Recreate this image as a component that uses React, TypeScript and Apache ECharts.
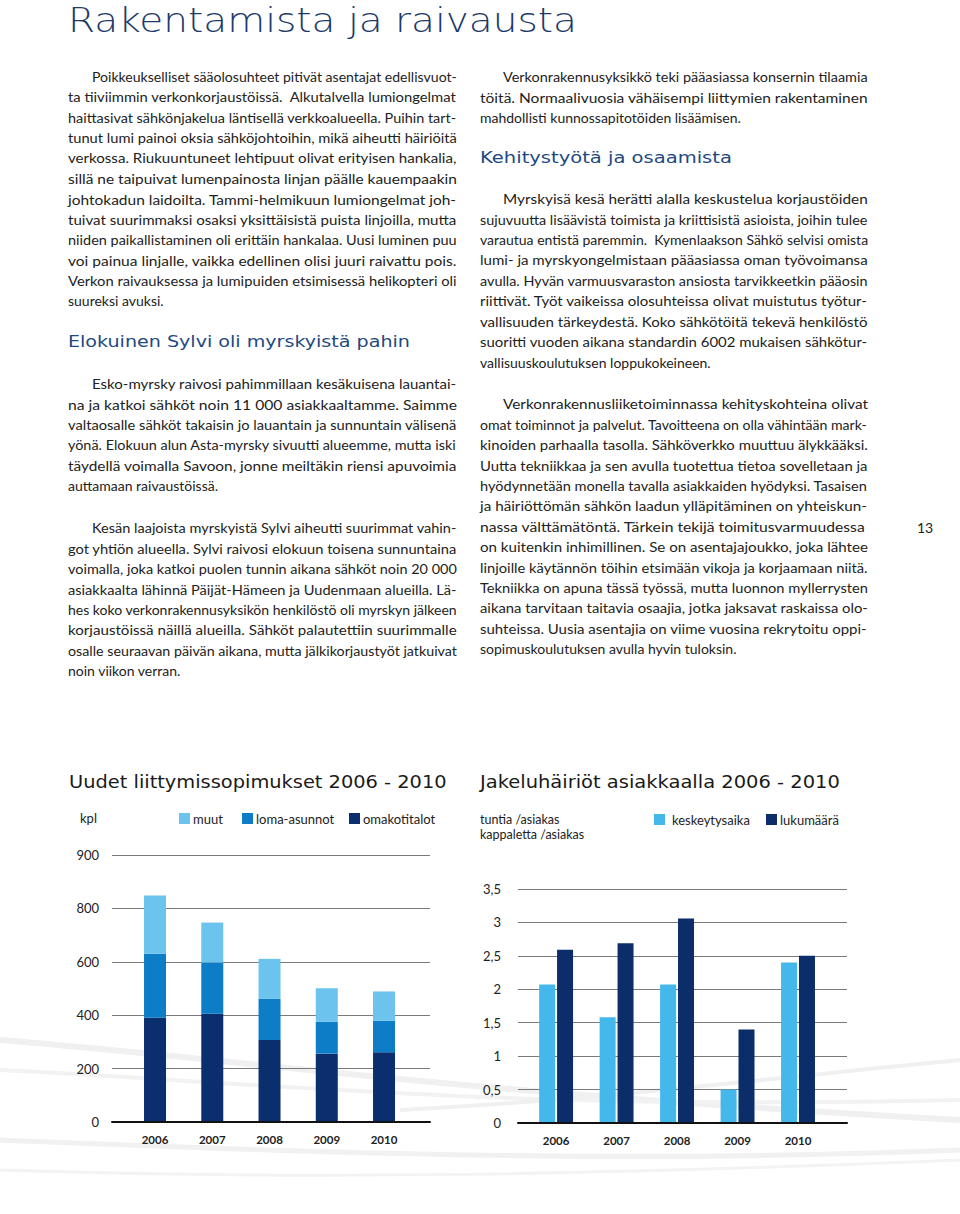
import React, { useEffect, useRef } from "react";
import * as echarts from "echarts";

// ---------- data ----------
const years = ["2006", "2007", "2008", "2009", "2010"];
const omakotitalot = [390, 405, 307, 256, 261];
const lomaAsunnot = [240, 192, 154, 120, 118];
const muut = [218, 150, 150, 125, 110];
const leftTickValues = [0, 200, 400, 600, 800, 1000];
const leftTickLabels = ["0", "200", "400", "600", "800", "900"];

const keskeytysaika = [2.07, 1.58, 2.07, 0.5, 2.4];
const lukumaara = [2.59, 2.69, 3.06, 1.4, 2.5];
const rightTickLabels = ["0", "0,5", "1", "1,5", "2", "2,5", "3", "3,5"];

// ---------- texts ----------
const pageTitle = "Rakentamista ja raivausta";
const heading1 = "Elokuinen Sylvi oli myrskyistä pahin";
const heading2 = "Kehitystyötä ja osaamista";
const chart1Title = "Uudet liittymissopimukset 2006 - 2010";
const chart2Title = "Jakeluhäiriöt asiakkaalla 2006 - 2010";

const para1 = [
  "Poikkeukselliset sääolosuhteet pitivät asentajat edellisvuot-",
  "ta tiiviimmin verkonkorjaustöissä.  Alkutalvella lumiongelmat",
  "haittasivat sähkönjakelua läntisellä verkkoalueella. Puihin tart-",
  "tunut lumi painoi oksia sähköjohtoihin, mikä aiheutti häiriöitä",
  "verkossa. Riukuuntuneet lehtipuut olivat erityisen hankalia,",
  "sillä ne taipuivat lumenpainosta linjan päälle kauempaakin",
  "johtokadun laidoilta. Tammi-helmikuun lumiongelmat joh-",
  "tuivat suurimmaksi osaksi yksittäisistä puista linjoilla, mutta",
  "niiden paikallistaminen oli erittäin hankalaa. Uusi luminen puu",
  "voi painua linjalle, vaikka edellinen olisi juuri raivattu pois.",
  "Verkon raivauksessa ja lumipuiden etsimisessä helikopteri oli",
  "suureksi avuksi.",
];
const para2 = [
  "Esko-myrsky raivosi pahimmillaan kesäkuisena lauantai-",
  "na ja katkoi sähköt noin 11 000 asiakkaaltamme. Saimme",
  "valtaosalle sähköt takaisin jo lauantain ja sunnuntain välisenä",
  "yönä. Elokuun alun Asta-myrsky sivuutti alueemme, mutta iski",
  "täydellä voimalla Savoon, jonne meiltäkin riensi apuvoimia",
  "auttamaan raivaustöissä.",
];
const para3 = [
  "Kesän laajoista myrskyistä Sylvi aiheutti suurimmat vahin-",
  "got yhtiön alueella. Sylvi raivosi elokuun toisena sunnuntaina",
  "voimalla, joka katkoi puolen tunnin aikana sähköt noin 20 000",
  "asiakkaalta lähinnä Päijät-Hämeen ja Uudenmaan alueilla. Lä-",
  "hes koko verkonrakennusyksikön henkilöstö oli myrskyn jälkeen",
  "korjaustöissä näillä alueilla. Sähköt palautettiin suurimmalle",
  "osalle seuraavan päivän aikana, mutta jälkikorjaustyöt jatkuivat",
  "noin viikon verran.",
];
const para4 = [
  "Verkonrakennusyksikkö teki pääasiassa konsernin tilaamia",
  "töitä. Normaalivuosia vähäisempi liittymien rakentaminen",
  "mahdollisti kunnossapitotöiden lisäämisen.",
];
const para5 = [
  "Myrskyisä kesä herätti alalla keskustelua korjaustöiden",
  "sujuvuutta lisäävistä toimista ja kriittisistä asioista, joihin tulee",
  "varautua entistä paremmin.  Kymenlaakson Sähkö selvisi omista",
  "lumi- ja myrskyongelmistaan pääasiassa oman työvoimansa",
  "avulla. Hyvän varmuusvaraston ansiosta tarvikkeetkin pääosin",
  "riittivät. Työt vaikeissa olosuhteissa olivat muistutus työtur-",
  "vallisuuden tärkeydestä. Koko sähkötöitä tekevä henkilöstö",
  "suoritti vuoden aikana standardin 6002 mukaisen sähkötur-",
  "vallisuuskoulutuksen loppukokeineen.",
];
const para6 = [
  "Verkonrakennusliiketoiminnassa kehityskohteina olivat",
  "omat toiminnot ja palvelut. Tavoitteena on olla vähintään mark-",
  "kinoiden parhaalla tasolla. Sähköverkko muuttuu älykkääksi.",
  "Uutta tekniikkaa ja sen avulla tuotettua tietoa sovelletaan ja",
  "hyödynnetään monella tavalla asiakkaiden hyödyksi. Tasaisen",
  "ja häiriöttömän sähkön laadun ylläpitäminen on yhteiskun-",
  "nassa välttämätöntä. Tärkein tekijä toimitusvarmuudessa",
  "on kuitenkin inhimillinen. Se on asentajajoukko, joka lähtee",
  "linjoille käytännön töihin etsimään vikoja ja korjaamaan niitä.",
  "Tekniikka on apuna tässä työssä, mutta luonnon myllerrysten",
  "aikana tarvitaan taitavia osaajia, jotka jaksavat raskaissa olo-",
  "suhteissa. Uusia asentajia on viime vuosina rekrytoitu oppi-",
  "sopimuskoulutuksen avulla hyvin tuloksin.",
];

// ---------- style ----------
const BODY = 'Lato, "Noto Sans", sans-serif';
const HEAD = '"DejaVu Sans", "Noto Sans", sans-serif';
const TEXT = "#222222";
const NAVY = "#1c3a6c";
const HEADBLUE = "#22497f";
const C_MUUT = "#6cc4ee";
const C_LOMA = "#0c7dc6";
const C_OMAKOTI = "#0b2f6e";
const C_KESK = "#45b8eb";
const C_LUKU = "#0b2e6b";
const GRIDLINE = "#7a7a7a";

let measureCtx: CanvasRenderingContext2D | null = null;
function measure(text: string, font: string): number {
  if (!measureCtx) measureCtx = document.createElement("canvas").getContext("2d");
  if (!measureCtx) return text.length * 7;
  measureCtx.font = font;
  return measureCtx.measureText(text).width;
}

function textEl(text: string, x: number, y: number, opts: any = {}) {
  const size = opts.size || 14;
  const weight = opts.weight || "normal";
  const family = opts.family || BODY;
  const font = `${weight} ${size}px ${family}`;
  let scaleX = 1;
  if (opts.fitWidth) {
    const w = measure(text, font);
    if (w > 0) scaleX = opts.fitWidth / w;
    if (opts.clamp) scaleX = Math.max(opts.clamp[0], Math.min(opts.clamp[1], scaleX));
  }
  return {
    type: "text",
    x,
    y,
    scaleX,
    silent: true,
    z: 10,
    style: {
      text,
      font,
      fill: opts.color || TEXT,
      align: opts.align || "left",
      verticalAlign: "middle",
      textAlign: opts.align || "left",
      textVerticalAlign: "middle",
    },
  };
}

function paragraph(lines: string[], x: number, indentX: number, y0: number, lh: number, right: number) {
  return lines.map((line, i) => {
    const lx = i === 0 ? indentX : x;
    const last = i === lines.length - 1;
    return textEl(line, lx, y0 + i * lh, last ? {} : { fitWidth: right - lx, clamp: [0.9, 1.12] });
  });
}

function swoosh(x1: number, y1: number, cx1: number, cy1: number, cx2: number, cy2: number, x2: number, y2: number, w: number, c: string) {
  return {
    type: "bezierCurve",
    silent: true,
    z: -10,
    shape: { x1, y1, cpx1: cx1, cpy1: cy1, cpx2: cx2, cpy2: cy2, x2, y2 },
    style: { stroke: c, lineWidth: w, fill: null },
  };
}

export default function App() {
  const ref = useRef<HTMLDivElement>(null);
  useEffect(() => {
    document.body.style.margin = "0";
    if (!ref.current) return;
    const chart = echarts.init(ref.current, undefined, { renderer: "svg" });
    const LH = 20.4;

    const graphics: any[] = [
      // faint decorative background swooshes
      swoosh(0, 1040, 250, 1060, 420, 1090, 960, 1120, 6, "#f0f0f0"),
      swoosh(0, 1070, 300, 1085, 500, 1110, 960, 1100, 4, "#f2f2f2"),
      swoosh(0, 1140, 250, 1150, 600, 1165, 960, 1150, 5, "#f1f1f1"),
      swoosh(400, 1110, 600, 1100, 800, 1075, 960, 1060, 4, "#f0f0f0"),
      swoosh(0, 1170, 300, 1180, 600, 1175, 960, 1160, 3, "#f3f3f3"),

      textEl(pageTitle, 68, 20, { size: 34, family: HEAD, color: NAVY, weight: 300, fitWidth: 509 }),
      ...paragraph(para1, 68, 92, 76.5, LH, 457),
      textEl(heading1, 68, 341.5, { size: 16, family: HEAD, color: HEADBLUE, fitWidth: 342 }),
      ...paragraph(para2, 68, 92, 383.5, LH, 457),
      ...paragraph(para3, 68, 92, 528, LH, 457),
      ...paragraph(para4, 480, 503, 76.5, LH, 868),
      textEl(heading2, 480, 157, { size: 16, family: HEAD, color: HEADBLUE, fitWidth: 252 }),
      ...paragraph(para5, 480, 503, 199, LH, 868),
      ...paragraph(para6, 480, 503, 404, LH, 868),
      textEl("13", 917, 527, { size: 14 }),
      textEl(chart1Title, 69, 781.5, { size: 18, family: HEAD, color: "#1a1a1a", fitWidth: 378 }),
      textEl(chart2Title, 480, 782, { size: 18, family: HEAD, color: "#1a1a1a", fitWidth: 360 }),
      textEl("kpl", 80, 818, { size: 13 }),
      textEl("tuntia /asiakas", 480, 819, { size: 12.5 }),
      textEl("kappaletta /asiakas", 480, 834, { size: 12.5 }),
    ];

    const legendBase = {
      orient: "horizontal",
      itemWidth: 11,
      itemHeight: 11,
      icon: "rect",
      padding: 0,
      itemGap: 0,
      selectedMode: false,
      textStyle: { fontFamily: BODY, fontSize: 13, color: TEXT, padding: [0, 0, 0, -2] },
    };

    const axisLabelStyle = { fontFamily: BODY, fontSize: 13, color: TEXT };
    const yearLabel = {
      margin: 11,
      fontFamily: BODY,
      fontSize: 11.5,
      fontWeight: "bold",
      color: "#222",
    };
    const hiddenAxis = {
      axisLine: { show: false },
      axisTick: { show: false },
      axisLabel: { show: false },
      splitLine: { show: false },
    };

    chart.setOption({
      animation: false,
      backgroundColor: "#ffffff",
      graphic: { elements: graphics },
      legend: [
        { ...legendBase, data: ["muut"], left: 179, top: 812 },
        { ...legendBase, data: ["loma-asunnot"], left: 242, top: 812 },
        { ...legendBase, data: ["omakotitalot"], left: 349, top: 812 },
        { ...legendBase, data: ["keskeytysaika"], left: 654, top: 813, textStyle: { ...legendBase.textStyle, padding: [0, 0, 0, 2] } },
        { ...legendBase, data: ["lukumäärä"], left: 766, top: 813 },
      ],
      grid: [
        // left chart: frame (gridlines, y labels, baseline)
        { left: 112, top: 855, width: 318, height: 267 },
        // left chart: bar area (category bands)
        { left: 126.4, top: 855, width: 286.25, height: 267 },
        // right chart
        { left: 518, top: 889, width: 329, height: 234 },
      ],
      xAxis: [
        {
          gridIndex: 0,
          type: "value",
          min: 0,
          max: 1,
          z: 5,
          axisLine: { show: true, onZero: false, lineStyle: { color: "#111", width: 2 } },
          axisTick: { show: false },
          splitLine: { show: false },
          axisLabel: { show: false },
        },
        {
          gridIndex: 1,
          type: "category",
          data: years,
          axisLine: { show: false },
          axisTick: { show: false },
          splitLine: { show: false },
          axisLabel: yearLabel,
        },
        {
          gridIndex: 2,
          type: "value",
          min: -0.63,
          max: 4.81,
          z: 5,
          axisLine: { show: true, onZero: false, lineStyle: { color: "#111", width: 2 } },
          axisTick: { show: false },
          splitLine: { show: false },
          axisLabel: {
            ...yearLabel,
            customValues: [0, 1, 2, 3, 4],
            formatter: (v: number) => years[Math.round(v)] ?? "",
          },
        },
      ],
      yAxis: [
        {
          gridIndex: 0,
          type: "value",
          min: 0,
          max: 1000,
          interval: 200,
          axisLine: { show: false },
          axisTick: { show: false },
          splitLine: { show: true, lineStyle: { color: GRIDLINE, width: 1 } },
          axisLabel: {
            ...axisLabelStyle,
            margin: 13,
            padding: [0, 0, 7, 0],
            formatter: (v: number) => {
              const i = leftTickValues.indexOf(v);
              return i >= 0 ? leftTickLabels[i] : "";
            },
          },
        },
        {
          gridIndex: 1,
          type: "value",
          min: 0,
          max: 1000,
          ...hiddenAxis,
        },
        {
          gridIndex: 2,
          type: "value",
          min: 0,
          max: 3.5,
          interval: 0.5,
          axisLine: { show: false },
          axisTick: { show: false },
          splitLine: { show: true, lineStyle: { color: GRIDLINE, width: 1 } },
          axisLabel: {
            ...axisLabelStyle,
            margin: 17,
            padding: [0, 0, 6, 0],
            formatter: (v: number) => rightTickLabels[Math.round(v * 2)] ?? "",
          },
        },
      ],
      series: [
        {
          type: "bar",
          name: "omakotitalot",
          xAxisIndex: 1,
          yAxisIndex: 1,
          stack: "liittymat",
          barWidth: 22,
          itemStyle: { color: C_OMAKOTI },
          data: omakotitalot,
        },
        {
          type: "bar",
          name: "loma-asunnot",
          xAxisIndex: 1,
          yAxisIndex: 1,
          stack: "liittymat",
          barWidth: 22,
          itemStyle: { color: C_LOMA },
          data: lomaAsunnot,
        },
        {
          type: "bar",
          name: "muut",
          xAxisIndex: 1,
          yAxisIndex: 1,
          stack: "liittymat",
          barWidth: 22,
          itemStyle: { color: C_MUUT },
          data: muut,
        },
        {
          type: "bar",
          name: "keskeytysaika",
          xAxisIndex: 2,
          yAxisIndex: 2,
          barWidth: 16,
          barGap: "12%",
          itemStyle: { color: C_KESK },
          data: keskeytysaika.map((v, i) => [i, v]),
        },
        {
          type: "bar",
          name: "lukumäärä",
          xAxisIndex: 2,
          yAxisIndex: 2,
          barWidth: 16,
          barGap: "12%",
          itemStyle: { color: C_LUKU },
          data: lukumaara.map((v, i) => [i, v]),
        },
      ],
    });

    return () => chart.dispose();
  }, []);

  return <div ref={ref} style={{ width: 960, height: 1214 }} />;
}
